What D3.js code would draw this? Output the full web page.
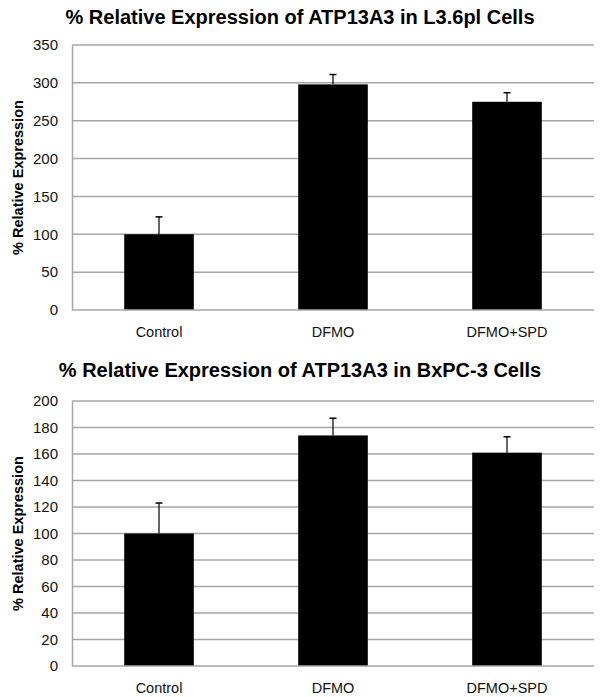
<!DOCTYPE html>
<html>
<head>
<meta charset="utf-8">
<script src="https://cdn.jsdelivr.net/npm/d3@7"></script>
<style>
  body { margin: 0; background: #fff; }
  text { font-family: "Liberation Sans", Arial, sans-serif; }
</style>
</head>
<body>
<svg id="chart" width="600" height="697"></svg>
<script>
// categories shared by both panels
var categories = ["Control", "DFMO", "DFMO+SPD"];

// panel 1: L3.6pl cells
var l36Values = [100, 298, 275];
var l36Errors = [23, 13, 12];
var l36Ticks = [0, 50, 100, 150, 200, 250, 300, 350];

// panel 2: BxPC-3 cells
var bxValues = [100, 174, 161];
var bxErrors = [23, 13, 12];
var bxTicks = [0, 20, 40, 60, 80, 100, 120, 140, 160, 180, 200];

var titles = [
  "% Relative Expression of ATP13A3 in L3.6pl Cells",
  "% Relative Expression of ATP13A3 in BxPC-3 Cells"
];
var yLabel = "% Relative Expression";

var svg = d3.select("#chart");

function drawPanel(top, title, values, errors, ticks, titleY) {
  var left = 72, right = 594, plotTop = top, plotBottom = top + 265;
  var g = svg.append("g");

  var x = d3.scaleBand()
    .domain(categories)
    .range([left, right])
    .paddingInner(0.6)
    .paddingOuter(0.3);

  var y = d3.scaleLinear()
    .domain([0, d3.max(ticks)])
    .range([plotBottom, plotTop]);

  // title
  g.append("text")
    .attr("x", 300)
    .attr("y", titleY)
    .attr("text-anchor", "middle")
    .style("font-size", "20px")
    .style("font-weight", "bold")
    .text(title);

  // gridlines
  g.selectAll(".grid")
    .data(ticks.slice(1))
    .enter().append("line")
    .attr("x1", left).attr("x2", right)
    .attr("y1", function(d) { return y(d); })
    .attr("y2", function(d) { return y(d); })
    .attr("stroke", "#a6a6a6")
    .attr("stroke-width", 1.5);

  // y axis
  var yAxis = d3.axisLeft(y).tickValues(ticks).tickSize(0).tickPadding(14);
  var ya = g.append("g")
    .attr("transform", "translate(" + left + ",0)")
    .call(yAxis);
  ya.select(".domain").attr("stroke", "#a6a6a6").attr("stroke-width", 1.5);
  ya.selectAll("text").style("font-size", "15px").attr("fill", "#111");

  // bars
  g.selectAll(".bar")
    .data(values)
    .enter().append("rect")
    .attr("x", function(d, i) { return x(categories[i]); })
    .attr("width", x.bandwidth())
    .attr("y", function(d) { return y(d); })
    .attr("height", function(d) { return plotBottom - y(d); })
    .attr("fill", "#000");

  // error bars (upper only)
  var eb = g.selectAll(".err")
    .data(values)
    .enter().append("g");
  eb.append("line")
    .attr("x1", function(d, i) { return x(categories[i]) + x.bandwidth() / 2; })
    .attr("x2", function(d, i) { return x(categories[i]) + x.bandwidth() / 2; })
    .attr("y1", function(d) { return y(d); })
    .attr("y2", function(d, i) { return y(d + errors[i]); })
    .attr("stroke", "#000").attr("stroke-width", 1.2);
  eb.append("line")
    .attr("x1", function(d, i) { return x(categories[i]) + x.bandwidth() / 2 - 3.5; })
    .attr("x2", function(d, i) { return x(categories[i]) + x.bandwidth() / 2 + 3.5; })
    .attr("y1", function(d, i) { return y(d + errors[i]); })
    .attr("y2", function(d, i) { return y(d + errors[i]); })
    .attr("stroke", "#000").attr("stroke-width", 1.5);

  // x axis
  var xAxis = d3.axisBottom(x).tickSize(0).tickPadding(17);
  var xa = g.append("g")
    .attr("transform", "translate(0," + plotBottom + ")")
    .call(xAxis);
  xa.select(".domain").attr("stroke", "#a6a6a6").attr("stroke-width", 1.5)
    .attr("d", "M" + left + ",0H" + right);
  xa.selectAll("text").style("font-size", "14.5px").attr("fill", "#111");

  // y label
  g.append("text")
    .attr("transform", "translate(23," + (plotTop + plotBottom) / 2 + ") rotate(-90)")
    .attr("text-anchor", "middle")
    .style("font-size", "14.5px")
    .style("font-weight", "bold")
    .text(yLabel);
}

drawPanel(45, titles[0], l36Values, l36Errors, l36Ticks, 24);

drawPanel(401, titles[1], bxValues, bxErrors, bxTicks, 377);
</script>
</body>
</html>
